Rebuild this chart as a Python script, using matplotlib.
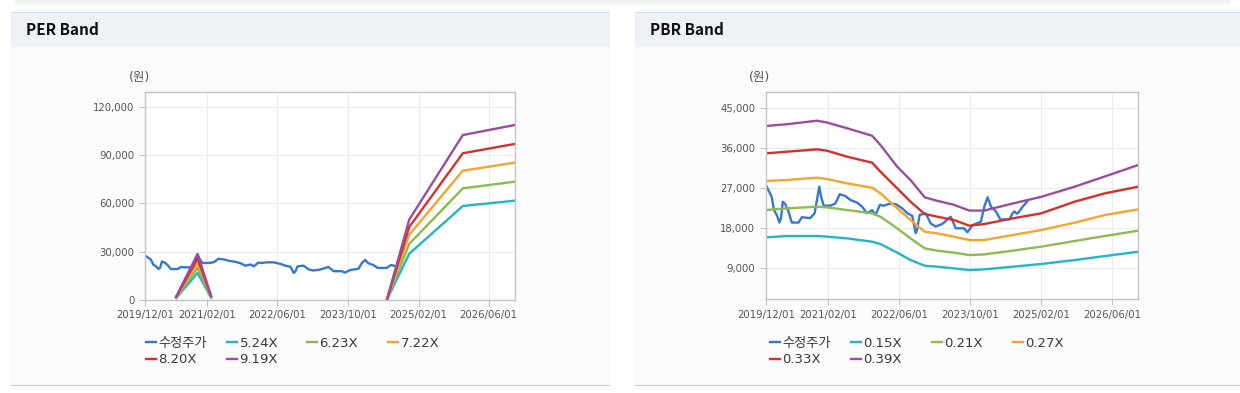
import matplotlib
matplotlib.use('Agg')
from matplotlib import pyplot as plt
from matplotlib.patches import Rectangle
import matplotlib.dates as mdates
import matplotlib.ticker as mticker
import numpy as np
import pandas as pd

plt.rcParams['font.family'] = ['DejaVu Sans', 'Noto Sans CJK KR']

W, H = 1240, 393

# 수정주가 (both charts share it, PER one stops earlier)
price_dates = ['2019-12-01', '2019-12-19', '2020-01-11', '2020-01-27', '2020-02-15', '2020-03-04',
               '2020-03-15', '2020-03-27', '2020-04-12', '2020-05-05', '2020-05-28', '2020-07-13',
               '2020-08-05', '2020-10-01', '2020-10-31', '2020-11-16', '2020-12-02', '2020-12-15',
               '2021-01-01', '2021-02-15', '2021-03-22', '2021-04-21', '2021-05-29', '2021-07-03',
               '2021-08-18', '2021-09-21', '2021-10-25', '2021-11-29', '2021-12-22', '2022-01-21',
               '2022-02-17', '2022-03-23', '2022-05-08', '2022-06-23', '2022-07-28', '2022-08-31',
               '2022-09-23', '2022-10-04', '2022-10-20', '2022-12-01', '2023-01-04', '2023-02-07',
               '2023-03-25', '2023-05-21', '2023-06-25', '2023-08-21', '2023-09-13', '2023-10-17',
               '2023-12-14', '2024-01-06', '2024-01-29', '2024-02-21', '2024-03-26', '2024-04-25',
               '2024-06-26', '2024-07-18', '2024-07-30', '2024-08-17', '2024-09-02', '2024-09-25',
               '2024-10-25']
price_values = [27700, 26550, 25000, 22000, 20900, 19200,
                20200, 23900, 23400, 21700, 19200, 19200,
                20400, 20200, 21300, 24300, 27300, 25000,
                23000, 23000, 23500, 25600, 25200, 24300,
                23700, 22800, 21300, 22000, 20900, 23200,
                23000, 23400, 23400, 22400, 21300, 20700,
                16800, 17700, 20900, 21300, 19000, 18300,
                18900, 20500, 17900, 17900, 17000, 18600,
                19400, 22800, 24900, 22800, 21700, 19900,
                19900, 21300, 21700, 21200, 21700, 22800,
                23900]
per_price_last = '2024-08-17'

# PER band
per_labels = ['5.24X', '6.23X', '7.22X', '8.20X', '9.19X']
per_band_dates = ['2020-07-03', '2020-11-28', '2021-03-01', '2022-12-01',
                  '2024-06-27', '2024-11-29', '2025-12-04', '2026-11-26']
per_524 = [1200, 16800, 1500, np.nan, 0, 28700, 58350, 61650]
per_623 = [1450, 19900, 1800, np.nan, 0, 34800, 69300, 73440]
per_722 = [1650, 22800, 2100, np.nan, 0, 40500, 80300, 85240]
per_820 = [1900, 25700, 2350, np.nan, 0, 45300, 91100, 96850]
per_919 = [2100, 28600, 2650, np.nan, 0, 49900, 102400, 108600]

# PBR band
pbr_labels = ['0.15X', '0.21X', '0.27X', '0.33X', '0.39X']
pbr_band_dates = ['2019-12-01', '2020-04-23', '2020-11-16', '2021-01-23', '2021-06-10', '2021-11-29',
                  '2022-01-25', '2022-05-20', '2022-08-19', '2022-11-24', '2023-02-19', '2023-06-13',
                  '2023-09-25', '2024-01-06', '2024-07-19', '2025-01-29', '2025-09-16', '2026-04-10',
                  '2026-11-26']
pbr_015 = [15850, 16160, 16160, 16010, 15630, 14870, 14350, 12400, 10740, 9450,
           9230, 8850, 8470, 8620, 9230, 9830, 10730, 11630, 12610]
pbr_021 = [22030, 22400, 22780, 22630, 22030, 21270, 20520, 17880, 15630, 13370,
           12850, 12400, 11860, 12010, 12850, 13750, 15030, 16160, 17360]
pbr_027 = [28580, 28810, 29330, 29030, 28050, 27070, 25790, 22400, 19770, 17130,
           16760, 16000, 15250, 15250, 16380, 17510, 19170, 20900, 22180]
pbr_033 = [34830, 35200, 35730, 35430, 34080, 32720, 30690, 26920, 23910, 21120,
           20520, 19770, 18490, 18860, 20150, 21270, 23910, 25790, 27300]
pbr_039 = [41000, 41400, 42200, 41800, 40500, 38800, 36700, 31800, 28800, 24900,
           24100, 23200, 21900, 21900, 23500, 25000, 27300, 29600, 32200]

x_tick_dates = ['2019-12-01', '2021-02-01', '2022-06-01', '2023-10-01', '2025-02-01', '2026-06-01']
per_yticks = [0, 30000, 60000, 90000, 120000]
pbr_yticks = [9000, 18000, 27000, 36000, 45000]

price_color = '#3577d1'
band_colors = ['#22b5c8', '#8cbb4f', '#f4a52a', '#d6302b', '#9a4d9f']

fig = plt.figure(figsize=(W / 100, H / 100), dpi=100, facecolor='white')


def px_rect(x0, y0, x1, y1, color):
    fig.patches.append(Rectangle((x0 / W, 1 - y1 / H), (x1 - x0) / W, (y1 - y0) / H,
                                 transform=fig.transFigure, facecolor=color,
                                 edgecolor='none', zorder=-10))


def panel(x0, x1, title):
    px_rect(x0, 12, x1, 385, '#fbfbfb')
    px_rect(x0, 12, x1, 46.5, '#eef2f7')
    px_rect(x0, 11.5, x1, 13, '#d9dce0')
    px_rect(x0, 384.5, x1, 386, '#cdcdcd')
    fig.text((x0 + 15) / W, 1 - 30 / H, title, fontsize=11, fontweight='bold',
             family=['Noto Sans CJK KR'], color='#111111', va='center', ha='left')


# faint shadow of the card above
px_rect(15, 0, 1230, 2.5, '#efefef')
px_rect(15, 2.5, 1230, 5, '#f7f7f7')

panel(11, 610, 'PER Band')
panel(635, 1240, 'PBR Band')


def make_axes(left, top, right, bottom, yticks, ylim):
    ax = fig.add_axes([left / W, 1 - bottom / H, (right - left) / W, (bottom - top) / H])
    ax.set_zorder(5)
    ax.set_facecolor('white')
    for s in ax.spines.values():
        s.set_color('#c4c4c4')
        s.set_linewidth(1.0)
    ax.set_xlim(pd.Timestamp('2019-12-01'), pd.Timestamp('2026-11-26'))
    ax.set_ylim(*ylim)
    ax.set_xticks(pd.to_datetime(x_tick_dates))
    ax.xaxis.set_major_formatter(mdates.DateFormatter('%Y/%m/%d'))
    ax.set_yticks(yticks)
    ax.yaxis.set_major_formatter(mticker.FuncFormatter(lambda v, p: f'{int(v):,}'))
    ax.tick_params(labelsize=7.3, colors='#c4c4c4', labelcolor='#555555', length=4, width=0.8)
    ax.grid(True, color='#ececec', linewidth=0.8)
    ax.set_axisbelow(True)
    return ax


def legend_col(handles, labels, x, y):
    leg = fig.legend(handles, labels, loc='upper left', bbox_to_anchor=(x / W, 1 - y / H),
                     frameon=False, fontsize=9.5, handlelength=0.75, handletextpad=0.2,
                     labelspacing=0.25, borderpad=0, borderaxespad=0, labelcolor='#3a3a3a')
    leg.set_zorder(6)


def draw_chart(ax, p_dates, p_vals, band_dates, bands, labels, unit_x, leg_x):
    handles = []
    h, = ax.plot(pd.to_datetime(p_dates), p_vals, color=price_color, lw=1.7,
                 solid_joinstyle='round')
    handles.append(h)
    bd = pd.to_datetime(band_dates)
    for vals, c in zip(bands, band_colors):
        h, = ax.plot(bd, vals, color=c, lw=1.7, solid_joinstyle='round')
        handles.append(h)
    fig.text(unit_x / W, 1 - 78 / H, '(원)', fontsize=9, color='#555555',
             ha='center', va='center')
    names = ['수정주가'] + labels
    y0 = 337
    legend_col([handles[0], handles[4]], [names[0], names[4]], leg_x[0], y0)
    legend_col([handles[1], handles[5]], [names[1], names[5]], leg_x[1], y0)
    legend_col([handles[2]], [names[2]], leg_x[2], y0)
    legend_col([handles[3]], [names[3]], leg_x[3], y0)


# PER
ax1 = make_axes(145, 91.7, 514.5, 300, per_yticks, (0, 129300))
pd_all = pd.to_datetime(price_dates)
keep = pd_all <= pd.Timestamp(per_price_last)
draw_chart(ax1, pd_all[keep], np.array(price_values)[keep], per_band_dates,
           [per_524, per_623, per_722, per_820, per_919], per_labels,
           139, [146, 227, 307, 388])

# PBR
ax2 = make_axes(765.7, 91.7, 1138.3, 299.3, pbr_yticks, (1865, 48750))
draw_chart(ax2, price_dates, price_values, pbr_band_dates,
           [pbr_015, pbr_021, pbr_027, pbr_033, pbr_039], pbr_labels,
           759, [770, 851, 932, 1013])

fig.savefig('out.png', dpi=100, facecolor='white')
